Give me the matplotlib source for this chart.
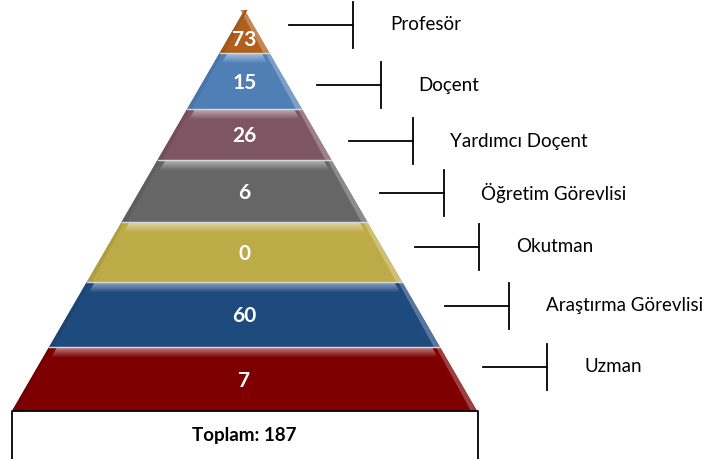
import numpy as np
import matplotlib.pyplot as plt
from matplotlib.patches import Polygon
from matplotlib.colors import to_rgb

# data, top of the pyramid first
titles = ["Profesör", "Doçent", "Yardımcı Doçent", "Öğretim Görevlisi",
          "Okutman", "Araştırma Görevlisi", "Uzman"]
counts = [73, 15, 26, 6, 0, 60, 7]
colors = ["#B0601E", "#4F7FB5", "#7E5663", "#666666", "#BDAB48", "#1F4A7E", "#7F0000"]
total_label = "Toplam: 187"

# layout in pixel units (figure is 716 x 459)
W, H = 716, 459
apex_x, apex_y = 244.5, 10
base_y, half_base = 411, 232.5
edges_y = [10, 53, 109, 160, 222, 282, 347, 411]
callout_y = [25, 85, 141, 193, 247, 306, 367]
callout_x = [353, 381, 413, 444, 479, 509, 547]

plt.rcParams['font.family'] = ['Lato', 'DejaVu Sans']

fig = plt.figure(figsize=(W / 100, H / 100), dpi=100)
ax = fig.add_axes([0, 0, 1, 1])
ax.set_xlim(0, W)
ax.set_ylim(H, 0)
ax.axis("off")


def half_w(y):
    return half_base * (y - apex_y) / (base_y - apex_y)


def lighten(c, f):
    r = np.array(to_rgb(c))
    return tuple(r + (1 - r) * f)


def darken(c, f):
    return tuple(np.array(to_rgb(c)) * (1 - f))


for i, (name, n, col) in enumerate(zip(titles, counts, colors)):
    y0, y1 = edges_y[i], edges_y[i + 1]
    w0, w1 = half_w(y0), half_w(y1)
    pts = [(apex_x - w0, y0), (apex_x + w0, y0), (apex_x + w1, y1), (apex_x - w1, y1)]
    ax.add_patch(Polygon(pts, closed=True, facecolor=col, edgecolor="none", zorder=2))

    # light bevel on the right edge
    ax.add_patch(Polygon([(apex_x + w0 - 4, y0), (apex_x + w0, y0),
                          (apex_x + w1, y1), (apex_x + w1 - 6, y1)],
                         closed=True, facecolor=lighten(col, 0.25), edgecolor="none", zorder=3))
    # darker bevel on the left edge
    ax.add_patch(Polygon([(apex_x - w0, y0), (apex_x - w0 + 3, y0),
                          (apex_x - w1 + 5, y1), (apex_x - w1, y1)],
                         closed=True, facecolor=darken(col, 0.08), edgecolor="none", zorder=3))

    # glossy band along the top of each layer
    if i > 0:
        steps = 9
        for k in range(steps):
            ya, yb = y0 + 1 + k, y0 + 2 + k
            f = 0.45 * (1 - k / steps)
            wa, wb = half_w(ya), half_w(yb)
            inset = 8
            ax.add_patch(Polygon([(apex_x - wa + inset, ya), (apex_x + wa - inset, ya),
                                  (apex_x + wb - inset, yb), (apex_x - wb + inset, yb)],
                                 closed=True, facecolor=lighten(col, f),
                                 edgecolor="none", zorder=4))
        # thin pale separator line between layers
        ax.plot([apex_x - w0, apex_x + w0], [y0, y0], color="#D8D8D8", lw=1, zorder=5)

    ymid = (y0 + y1) / 2 + (8 if i == 0 else 2)
    ax.text(apex_x, ymid, str(n), color="white", fontsize=15, fontweight="bold",
            ha="center", va="center", zorder=6)

    # connector: horizontal line ending in a vertical bar, then the title
    yc, x_bar = callout_y[i], callout_x[i]
    ax.plot([x_bar - 64, x_bar], [yc, yc], color="black", lw=1.3, zorder=5)
    ax.plot([x_bar, x_bar], [yc - 23, yc + 23], color="black", lw=1.3, zorder=5)
    ax.text(x_bar + 37, yc, name, fontsize=13.5, ha="left", va="center", zorder=6)

# total box under the pyramid
ax.plot([12, 12, 478, 478], [H + 5, base_y, base_y, H + 5], color="black", lw=1.3, zorder=6)
ax.text(apex_x, 436, total_label, fontsize=13.5, fontweight="bold", ha="center",
        va="center", zorder=6)

fig.savefig("out.png", dpi=100)
